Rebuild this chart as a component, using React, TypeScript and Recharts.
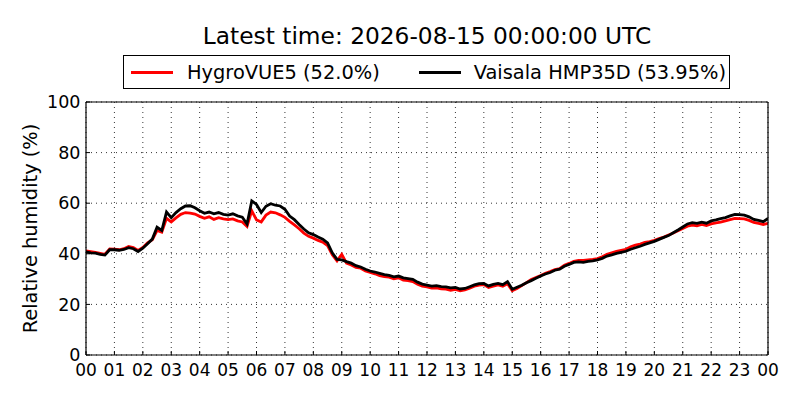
import { CartesianGrid, Legend, Line, LineChart, XAxis, YAxis } from 'recharts';

// one reading every 10 minutes, 00:00 .. 24:00
const STEP_MINUTES = 10;

const hygroVUE5 = [
  41.2, 40.9, 40.6, 40.2, 39.8, 41.9,
  41.8, 41.6, 42.0, 42.9, 42.5, 41.3,
  42.5, 44.3, 45.5, 49.2, 48.5, 54.0,
  52.6, 54.2, 55.6, 56.3, 56.1, 55.7,
  54.8, 54.0, 54.6, 53.6, 54.3, 53.8,
  53.5, 53.8, 53.0, 52.6, 50.8, 57.0,
  53.4, 52.6, 55.3, 56.5, 56.2, 55.4,
  54.4, 52.8, 51.4, 49.9, 48.2, 46.9,
  46.2, 45.3, 44.6, 43.2, 39.6, 37.2,
  39.8, 36.3, 35.6, 34.6, 34.3, 33.2,
  32.6, 32.1, 31.4, 31.0, 30.8, 30.1,
  30.5, 29.6, 29.4, 29.0, 28.0, 27.2,
  26.9, 26.4, 26.5, 26.1, 26.0, 25.6,
  25.9, 25.4, 25.7, 26.4, 27.2, 27.6,
  27.8, 26.7, 27.2, 27.7, 27.2, 28.2,
  25.4, 26.3, 27.4, 28.6, 29.8, 30.6,
  31.4, 32.3, 33.0, 33.8, 34.1, 35.5,
  36.2, 37.0, 37.4, 37.4, 37.6, 37.8,
  38.1, 38.8, 39.8, 40.4, 41.0, 41.4,
  41.8, 42.8, 43.4, 43.8, 44.5, 44.8,
  45.3, 46.0, 46.6, 47.4, 48.2, 49.1,
  50.0, 50.9, 51.3, 51.1, 51.6, 51.2,
  51.8, 52.2, 52.5, 53.0, 53.5, 54.0,
  53.9, 53.8, 53.2, 52.4, 52.0, 51.6,
  52.0,
];

const hmp35d = [
  40.8, 40.4, 40.3, 39.8, 39.5, 41.6,
  41.6, 41.4, 41.7, 42.4, 42.0, 40.9,
  42.2, 44.0, 45.8, 50.5, 49.2, 56.5,
  54.3, 56.3, 57.8, 58.9, 59.0, 58.2,
  57.0, 56.0, 56.5, 55.8, 56.3, 55.6,
  55.3, 55.8, 55.0, 54.5, 51.8, 60.9,
  59.5, 56.3, 58.8, 59.8, 59.2, 58.9,
  57.6, 54.9, 53.5, 51.6, 49.8, 48.3,
  47.6, 46.6, 45.8, 44.3, 40.4, 37.8,
  37.6, 36.9, 36.3, 35.3, 34.8, 33.9,
  33.2, 32.8, 32.3, 31.8, 31.5, 30.9,
  31.2, 30.5, 30.2, 29.9, 28.8, 28.0,
  27.6, 27.2, 27.4, 27.0, 26.9, 26.5,
  26.7, 26.1, 26.3, 27.0, 27.7, 28.2,
  28.3, 27.3, 27.9, 28.3, 27.8, 29.0,
  26.0, 26.8, 27.6, 28.6, 29.4, 30.3,
  31.2, 32.0, 32.6, 33.5, 33.9, 35.1,
  35.8, 36.6, 36.8, 36.6, 37.0, 37.2,
  37.6, 38.2, 39.1, 39.6, 40.2, 40.6,
  41.0, 41.8, 42.4, 43.0, 43.7, 44.3,
  44.9, 45.7, 46.5, 47.2, 48.3, 49.4,
  50.6, 51.8, 52.3, 52.0, 52.5, 52.1,
  53.0, 53.4, 53.9, 54.3, 55.0, 55.6,
  55.5, 55.3, 54.6, 53.6, 53.2, 52.7,
  53.95,
];

const hourTicks = [0, 1, 2, 3, 4, 5, 6, 7, 8, 9, 10, 11, 12, 13, 14, 15, 16, 17, 18, 19, 20, 21, 22, 23, 24];
const hourLabels = ['00', '01', '02', '03', '04', '05', '06', '07', '08', '09', '10', '11', '12',
  '13', '14', '15', '16', '17', '18', '19', '20', '21', '22', '23', '00'];
const rhTicks = [0, 20, 40, 60, 80, 100];
const legendLabels = ['HygroVUE5 (52.0%)', 'Vaisala HMP35D (53.95%)'];
const title = 'Latest time: 2026-08-15 00:00:00 UTC';

const data = hmp35d.map((v, i) => ({
  hour: (i * STEP_MINUTES) / 60,
  hygro: hygroVUE5[i],
  hmp: v,
}));

const FONT = '"DejaVu Sans", sans-serif';

const LegendBox = () => (
  <div
    style={{
      boxSizing: 'border-box',
      width: 607,
      height: 34,
      border: '1px solid #000',
      background: '#fff',
      display: 'flex',
      alignItems: 'center',
      fontFamily: FONT,
      fontSize: 19.4,
      color: '#000',
      whiteSpace: 'nowrap',
    }}
  >
    <span style={{ display: 'inline-block', width: 42, height: 3, background: '#ff0000', marginLeft: 7, marginRight: 14 }} />
    <span>{legendLabels[0]}</span>
    <span style={{ display: 'inline-block', width: 42, height: 3, background: '#000', marginLeft: 39, marginRight: 13 }} />
    <span>{legendLabels[1]}</span>
  </div>
);

export default function App() {
  return (
    <div style={{ position: 'absolute', left: 0, top: 0, width: 800, height: 400, background: '#fff', fontFamily: FONT }}>
      <div
        style={{
          position: 'absolute',
          left: 86,
          top: 24,
          width: 682,
          textAlign: 'center',
          fontSize: 23.3,
          lineHeight: '24px',
          color: '#000',
          zIndex: 1,
        }}
      >
        {title}
      </div>
      <LineChart
        width={800}
        height={400}
        data={data}
        margin={{ top: 102, right: 32, bottom: 0, left: 0 }}
        style={{ fontFamily: FONT }}
      >
        <CartesianGrid stroke="#000" strokeDasharray="1 4" strokeWidth={0.8} />
        <XAxis
          dataKey="hour"
          type="number"
          domain={[0, 24]}
          ticks={hourTicks}
          interval={0}
          tickFormatter={(v: number) => hourLabels[Math.round(v)]}
          height={45}
          tickSize={-4}
          tickMargin={13}
          axisLine={{ stroke: '#000', strokeWidth: 1.2 }}
          tickLine={{ stroke: '#000' }}
          tick={{ fill: '#000', fontSize: 17 }}
          allowDataOverflow
        />
        <XAxis
          xAxisId="top"
          orientation="top"
          type="number"
          domain={[0, 24]}
          ticks={hourTicks}
          interval={0}
          mirror
          height={2}
          tickSize={4}
          tick={false}
          axisLine={{ stroke: '#000', strokeWidth: 1.2 }}
          tickLine={{ stroke: '#000' }}
          allowDataOverflow
        />
        <YAxis
          type="number"
          domain={[0, 100]}
          ticks={rhTicks}
          interval={0}
          width={86}
          tickSize={-4}
          tickMargin={9.5}
          axisLine={{ stroke: '#000', strokeWidth: 1.2 }}
          tickLine={{ stroke: '#000' }}
          tick={{ fill: '#000', fontSize: 17.5 }}
          label={{
            value: 'Relative humidity (%)',
            angle: -90,
            position: 'insideLeft',
            offset: 30,
            style: { textAnchor: 'middle', fill: '#000', fontSize: 19.4 },
          }}
          allowDataOverflow
        />
        <YAxis
          yAxisId="right"
          orientation="right"
          type="number"
          domain={[0, 100]}
          ticks={rhTicks}
          interval={0}
          mirror
          width={2}
          tickSize={4}
          tick={false}
          axisLine={{ stroke: '#000', strokeWidth: 1.2 }}
          tickLine={{ stroke: '#000' }}
          allowDataOverflow
        />
        <Legend verticalAlign="middle" wrapperStyle={{ top: 55, left: 123, width: 607, height: 34 }} content={<LegendBox />} />
        <Line
          type="linear"
          dataKey="hygro"
          stroke="#ff0000"
          strokeWidth={2.8}
          dot={false}
          isAnimationActive={false}
        />
        <Line
          type="linear"
          dataKey="hmp"
          stroke="#000"
          strokeWidth={2.8}
          dot={false}
          isAnimationActive={false}
        />
      </LineChart>
    </div>
  );
}
